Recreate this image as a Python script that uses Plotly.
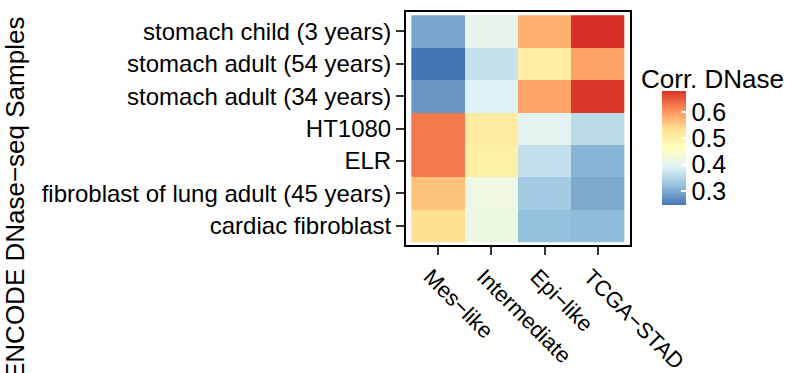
import plotly.graph_objects as go

# ENCODE DNase-seq samples (rows, top to bottom) and comparison groups (columns)
samples = [
    "stomach child (3 years)",
    "stomach adult (54 years)",
    "stomach adult (34 years)",
    "HT1080",
    "ELR",
    "fibroblast of lung adult (45 years)",
    "cardiac fibroblast",
]
groups = ["Mes\u2212like", "Intermediate", "Epi\u2212like", "TCGA\u2212STAD"]

# correlation with DNase signal, one list per group (same order as samples)
mes_like = [0.295, 0.247, 0.281, 0.625, 0.625, 0.562, 0.532]
intermediate = [0.405, 0.366, 0.388, 0.507, 0.498, 0.419, 0.418]
epi_like = [0.576, 0.505, 0.586, 0.400, 0.364, 0.335, 0.322]
tcga_stad = [0.679, 0.590, 0.675, 0.358, 0.310, 0.298, 0.316]

colorbar_ticks = [0.3, 0.4, 0.5, 0.6]

columns = [mes_like, intermediate, epi_like, tcga_stad]
z = [[col[i] for col in columns] for i in range(len(samples))]
zmin = min(min(c) for c in columns)
zmax = max(max(c) for c in columns)

# RdYlBu, blue for low and red for high, interpolated in CIE Lab
rdylbu = ["#4575b4", "#91bfdb", "#e0f3f8", "#ffffbf", "#fee090", "#fc8d59", "#d73027"]


def _to_lin(c):
    c /= 255.0
    return c / 12.92 if c <= 0.04045 else ((c + 0.055) / 1.055) ** 2.4


def _from_lin(c):
    c = 12.92 * c if c <= 0.0031308 else 1.055 * c ** (1 / 2.4) - 0.055
    return max(0, min(255, round(c * 255)))


WHITE = (0.95047, 1.0, 1.08883)


def hex_to_lab(h):
    r, g, b = (_to_lin(int(h[i:i + 2], 16)) for i in (1, 3, 5))
    x = 0.4124564 * r + 0.3575761 * g + 0.1804375 * b
    y = 0.2126729 * r + 0.7151522 * g + 0.0721750 * b
    zz = 0.0193339 * r + 0.1191920 * g + 0.9503041 * b

    def f(t):
        return t ** (1 / 3) if t > 216 / 24389 else (24389 / 27 * t + 16) / 116

    fx, fy, fz = f(x / WHITE[0]), f(y / WHITE[1]), f(zz / WHITE[2])
    return (116 * fy - 16, 500 * (fx - fy), 200 * (fy - fz))


def lab_to_rgb(lab):
    L_, a, b = lab
    fy = (L_ + 16) / 116
    fx = fy + a / 500
    fz = fy - b / 200

    def finv(t):
        return t ** 3 if t ** 3 > 216 / 24389 else (116 * t - 16) / (24389 / 27)

    x, y, zz = finv(fx) * WHITE[0], finv(fy) * WHITE[1], finv(fz) * WHITE[2]
    r = 3.2404542 * x - 1.5371385 * y - 0.4985314 * zz
    g = -0.9692660 * x + 1.8760108 * y + 0.0415560 * zz
    bb = 0.0556434 * x - 0.2040259 * y + 1.0572252 * zz
    return "rgb({},{},{})".format(_from_lin(r), _from_lin(g), _from_lin(bb))


labs = [hex_to_lab(c) for c in rdylbu]
n_seg = len(labs) - 1
steps = 60
colorscale = []
for k in range(steps + 1):
    t = k / steps
    pos = t * n_seg
    i = min(int(pos), n_seg - 1)
    f = pos - i
    lab = tuple(labs[i][j] + (labs[i + 1][j] - labs[i][j]) * f for j in range(3))
    colorscale.append([t, lab_to_rgb(lab)])

FONT = "Liberation Sans, Arial, Helvetica, sans-serif"

W, H = 788, 373
L, R, T, B = 406, 158, 12, 128
pw, ph = W - L - R, H - T - B


def px_x(x):
    return (x - L) / pw


def px_y(y):
    return (H - B - y) / ph


# colour bar geometry (pixels)
CB_LEFT, CB_W, CB_TOP, CB_H = 662, 24, 91, 114

fig = go.Figure(
    go.Heatmap(
        z=z,
        x=list(range(len(groups))),
        y=list(range(len(samples))),
        zmin=zmin,
        zmax=zmax,
        colorscale=colorscale,
        xgap=0,
        ygap=0,
        colorbar=dict(
            x=px_x(CB_LEFT),
            xanchor="left",
            y=px_y(CB_TOP + CB_H / 2),
            yanchor="middle",
            xpad=0,
            ypad=0,
            thickness=CB_W,
            thicknessmode="pixels",
            len=CB_H,
            lenmode="pixels",
            outlinewidth=0,
            tickvals=colorbar_ticks,
            ticktext=[f"{v:.1f}" for v in colorbar_ticks],
            ticks="inside",
            ticklen=5,
            tickwidth=2,
            tickcolor="white",
            tickfont=dict(size=25, color="black", family=FONT),
        ),
    )
)

# matching white tick marks on the left edge of the colour bar
for v in colorbar_ticks:
    ty = CB_TOP + CB_H - (v - zmin) / (zmax - zmin) * CB_H
    fig.add_shape(
        type="line",
        xref="paper",
        yref="paper",
        x0=px_x(CB_LEFT),
        x1=px_x(CB_LEFT + 5),
        y0=px_y(ty),
        y1=px_y(ty),
        line=dict(color="white", width=2),
    )

axis_style = dict(
    ticks="outside",
    ticklen=8,
    tickwidth=2,
    tickcolor="#333333",
    showline=True,
    linecolor="black",
    linewidth=2,
    mirror=True,
    showgrid=False,
    zeroline=False,
    automargin=False,
)

fig.update_xaxes(
    tickmode="array",
    tickvals=list(range(len(groups))),
    ticktext=groups,
    range=[-0.6, len(groups) - 0.4],
    tickangle=45,
    ticklabelshift=-8,
    tickfont=dict(size=22, color="black", family=FONT),
    **axis_style,
)
fig.update_yaxes(
    tickmode="array",
    tickvals=list(range(len(samples))),
    ticktext=samples,
    range=[len(samples) - 0.4, -0.6],
    tickfont=dict(size=24, color="black", family=FONT),
    **axis_style,
)

fig.add_annotation(
    text="ENCODE DNase\u2212seq Samples",
    xref="paper",
    yref="paper",
    x=px_x(15),
    y=px_y(199),
    xanchor="center",
    yanchor="middle",
    textangle=-90,
    showarrow=False,
    font=dict(size=26, color="black", family=FONT),
)
fig.add_annotation(
    text="Corr. DNase",
    xref="paper",
    yref="paper",
    x=px_x(639),
    y=px_y(79),
    xanchor="left",
    yanchor="middle",
    showarrow=False,
    font=dict(size=26, color="black", family=FONT),
)

fig.update_layout(
    width=W,
    height=H,
    autosize=False,
    margin=dict(l=L, r=R, t=T, b=B, pad=0, autoexpand=False),
    paper_bgcolor="white",
    plot_bgcolor="white",
    font=dict(family=FONT, color="black"),
)

fig.write_html("out.html")
